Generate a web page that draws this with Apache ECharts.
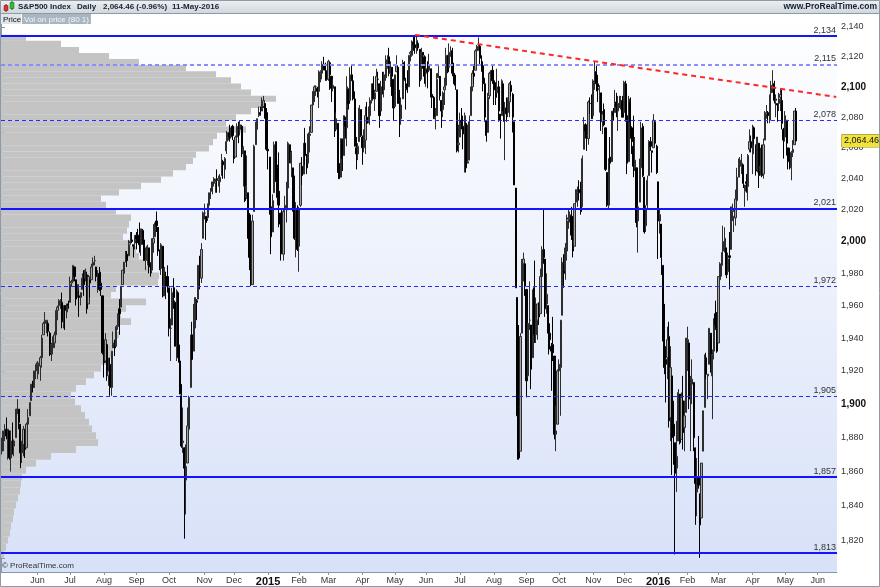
<!DOCTYPE html>
<html><head><meta charset="utf-8">
<script src="https://cdn.jsdelivr.net/npm/echarts@6/dist/echarts.min.js"></script>
<style>html,body{margin:0;padding:0;background:#fff}#c{width:880px;height:587px}</style>
</head><body><div id="c"></div>
<script>
// ---- axis / calendar ----
const firstDay = '2014-04-29';
const lastDay = '2016-06-17';
const holidays = ['2014-05-26','2014-07-04','2014-09-01','2014-11-27','2014-12-25','2015-01-01','2015-01-19','2015-02-16','2015-04-03','2015-05-25','2015-07-03','2015-09-07','2015-11-26','2015-12-25','2016-01-01','2016-01-18','2016-02-15','2016-03-25','2016-05-30'];
const monthNames = ['Jan','Feb','Mar','Apr','May','Jun','Jul','Aug','Sep','Oct','Nov','Dec'];
const yLabelValues = [1820,1840,1860,1880,1900,1920,1940,1960,1980,2000,2020,2040,2060,2080,2100,2120,2140];
const yTickValues = [1810,1820,1830,1840,1850,1860,1870,1880,1890,1900,1910,1920,1930,1940,1950,1960,1970,1980,1990,2000,2010,2020,2030,2040,2050,2060,2070,2080,2090,2100,2110,2120,2130,2140];

// ---- daily S&P500 [open, high, low, close] ----
const ohlc = [
// 2014 Apr
[1872,1880,1870,1878],[1877,1884,1872,1884],
// May
[1884,1888,1878,1884],[1885,1892,1879,1881],[1879,1885,1867,1885],[1884,1884,1867,1868],[1868,1884,1860,1878],[1878,1889,1870,1876],[1875,1879,1869,1878],[1880,1897,1880,1897],[1897,1903,1894,1897],[1897,1897,1885,1889],[1888,1888,1862,1871],[1871,1878,1865,1878],[1876,1887,1869,1885],[1885,1885,1868,1873],[1874,1889,1874,1888],[1888,1897,1886,1892],[1893,1901,1893,1901],[1902,1912,1902,1912],[1911,1914,1907,1910],[1910,1920,1910,1920],[1920,1924,1915,1924],
// Jun
[1924,1926,1915,1925],[1923,1925,1918,1924],[1923,1929,1914,1928],[1928,1942,1922,1940],[1942,1950,1942,1949],[1949,1956,1947,1951],[1950,1951,1943,1951],[1949,1950,1941,1944],[1943,1944,1929,1930],[1931,1937,1926,1936],[1934,1941,1930,1938],[1937,1944,1934,1942],[1942,1957,1937,1957],[1957,1960,1951,1959],[1960,1964,1958,1963],[1963,1964,1958,1963],[1962,1968,1946,1950],[1949,1960,1946,1960],[1960,1960,1945,1957],[1956,1961,1952,1961],[1961,1963,1958,1960],
// Jul
[1962,1978,1962,1973],[1974,1976,1972,1975],[1975,1985,1975,1985],[1984,1984,1975,1978],[1976,1976,1960,1964],[1965,1973,1965,1973],[1966,1969,1953,1965],[1965,1968,1960,1968],[1970,1980,1970,1977],[1978,1982,1966,1973],[1977,1983,1975,1982],[1979,1981,1955,1958],[1961,1979,1961,1978],[1976,1976,1965,1974],[1976,1986,1976,1984],[1985,1990,1984,1987],[1988,1991,1985,1988],[1984,1984,1975,1978],[1979,1982,1968,1979],[1980,1984,1969,1970],[1974,1981,1966,1970],[1966,1966,1930,1931],
// Aug
[1929,1932,1916,1925],[1926,1943,1925,1939],[1936,1936,1914,1920],[1917,1928,1911,1920],[1924,1928,1905,1910],[1910,1932,1905,1932],[1934,1944,1934,1937],[1936,1939,1929,1934],[1935,1948,1935,1947],[1947,1955,1945,1955],[1958,1964,1942,1955],[1959,1972,1959,1972],[1973,1982,1973,1982],[1980,1987,1979,1987],[1987,1994,1987,1992],[1992,1994,1984,1988],[1991,2001,1991,1998],[1999,2006,1998,2000],[2001,2006,1999,2000],[1998,1998,1990,1997],[1999,2004,1995,2003],
// Sep
[2004,2006,1995,2002],[2004,2008,1999,2001],[2002,2012,1993,1998],[1998,2008,1991,2008],[2007,2008,1998,2002],[2001,2003,1988,1988],[1988,1996,1982,1996],[1993,1998,1985,1997],[1996,1996,1980,1986],[1986,1987,1978,1984],[1982,2002,1980,1999],[1999,2011,1993,2002],[2003,2012,2003,2011],[2013,2019,2006,2010],[2009,2009,1991,1994],[1992,1995,1982,1983],[1983,1999,1979,1998],[1997,1997,1965,1966],[1966,1984,1966,1983],[1978,1981,1964,1978],[1978,1985,1968,1972],
// Oct
[1971,1971,1941,1946],[1946,1952,1926,1946],[1948,1971,1948,1968],[1971,1977,1958,1965],[1962,1963,1935,1935],[1935,1970,1926,1969],[1968,1968,1925,1928],[1926,1936,1906,1906],[1905,1912,1874,1875],[1877,1898,1871,1878],[1874,1874,1821,1862],[1855,1876,1835,1863],[1865,1898,1865,1887],[1885,1905,1883,1904],[1910,1942,1910,1941],[1942,1950,1927,1927],[1932,1961,1932,1951],[1951,1965,1946,1965],[1963,1964,1951,1962],[1964,1985,1964,1985],[1984,1991,1970,1982],[1977,1999,1974,1995],[2002,2019,2002,2018],
// Nov
[2018,2024,2014,2018],[2016,2016,2001,2012],[2016,2024,2013,2024],[2023,2031,2015,2031],[2032,2034,2027,2032],[2032,2038,2030,2038],[2038,2041,2035,2040],[2037,2040,2031,2038],[2040,2046,2031,2039],[2039,2042,2035,2040],[2038,2043,2031,2041],[2042,2056,2042,2052],[2051,2052,2040,2049],[2046,2054,2040,2053],[2058,2071,2056,2064],[2065,2070,2064,2069],[2070,2075,2064,2067],[2067,2073,2066,2073],[2074,2075,2065,2068],
// Dec
[2065,2065,2050,2053],[2054,2068,2054,2067],[2067,2076,2066,2074],[2073,2077,2063,2072],[2072,2078,2068,2075],[2074,2075,2054,2060],[2056,2061,2035,2060],[2058,2058,2025,2026],[2028,2055,2027,2035],[2031,2031,2002,2002],[2005,2018,1982,1990],[1986,2017,1972,1973],[1973,2017,1973,2013],[2019,2062,2019,2061],[2062,2077,2062,2071],[2072,2079,2070,2079],[2081,2087,2080,2082],[2083,2087,2081,2082],[2084,2093,2084,2089],[2087,2094,2086,2091],[2089,2089,2079,2080],[2083,2086,2058,2059],
// 2015 Jan
[2059,2072,2046,2058],[2054,2054,2017,2021],[2022,2030,1992,2003],[2006,2030,2006,2026],[2031,2064,2031,2062],[2064,2064,2038,2045],[2047,2049,2023,2028],[2032,2057,2009,2023],[2018,2018,1988,2011],[2014,2021,1992,1993],[1992,2020,1988,2019],[2021,2029,2004,2023],[2020,2038,2012,2032],[2034,2064,2026,2063],[2062,2062,2050,2052],[2050,2058,2041,2057],[2047,2047,2019,2030],[2032,2042,2001,2002],[2002,2025,1990,2021],[2020,2023,1994,1995],
// Feb
[1997,2022,1981,2021],[2023,2050,2022,2050],[2048,2054,2036,2042],[2043,2063,2043,2063],[2063,2073,2049,2055],[2053,2056,2043,2047],[2050,2070,2050,2069],[2068,2074,2057,2069],[2070,2088,2070,2088],[2088,2097,2086,2097],[2097,2101,2090,2100],[2100,2101,2094,2100],[2099,2100,2093,2097],[2097,2111,2086,2110],[2109,2111,2103,2110],[2109,2117,2105,2115],[2115,2120,2111,2114],[2114,2116,2104,2111],[2110,2111,2104,2105],
// Mar
[2105,2118,2104,2117],[2116,2116,2098,2108],[2107,2107,2090,2099],[2099,2105,2097,2101],[2100,2100,2067,2071],[2072,2083,2072,2079],[2076,2076,2044,2044],[2045,2050,2040,2040],[2041,2066,2041,2066],[2065,2066,2045,2053],[2055,2081,2055,2081],[2080,2080,2066,2074],[2073,2107,2061,2100],[2098,2099,2085,2089],[2091,2113,2091,2108],[2108,2115,2104,2104],[2104,2107,2091,2092],[2092,2097,2061,2061],[2060,2067,2046,2056],[2056,2063,2052,2061],[2064,2088,2064,2086],[2085,2085,2067,2068],
// Apr
[2067,2068,2049,2060],[2060,2072,2057,2067],[2065,2087,2056,2081],[2080,2090,2076,2076],[2077,2087,2076,2082],[2081,2093,2075,2091],[2091,2102,2089,2102],[2102,2107,2092,2092],[2092,2098,2084,2096],[2097,2112,2097,2107],[2105,2110,2101,2105],[2102,2102,2073,2081],[2084,2104,2084,2100],[2102,2110,2095,2097],[2098,2110,2093,2108],[2106,2121,2104,2113],[2113,2121,2112,2118],[2120,2126,2107,2109],[2109,2117,2100,2115],[2113,2113,2094,2107],[2105,2105,2078,2086],
// May
[2087,2108,2087,2108],[2110,2121,2110,2114],[2113,2114,2089,2089],[2091,2098,2067,2080],[2079,2093,2075,2088],[2092,2118,2092,2116],[2116,2117,2104,2105],[2102,2106,2085,2099],[2100,2111,2096,2098],[2100,2121,2100,2121],[2122,2124,2117,2123],[2121,2131,2120,2129],[2130,2134,2124,2128],[2128,2134.7,2122,2126],[2125,2134,2122,2131],[2129,2130,2124,2126],[2125,2125,2100,2104],[2105,2126,2105,2123],[2123,2123,2112,2121],[2120,2121,2102,2107],
// Jun
[2109,2117,2100,2112],[2111,2117,2099,2110],[2111,2122,2110,2114],[2112,2112,2093,2096],[2095,2101,2086,2093],[2093,2094,2079,2079],[2079,2086,2072,2080],[2081,2109,2081,2105],[2106,2115,2106,2109],[2107,2107,2091,2094],[2091,2091,2073,2084],[2085,2097,2080,2096],[2098,2106,2088,2100],[2101,2126,2099,2121],[2121,2121,2109,2110],[2113,2129,2113,2123],[2123,2127,2120,2124],[2124,2126,2107,2109],[2109,2116,2102,2102],[2103,2108,2098,2101],[2098,2098,2057,2058],[2062,2075,2057,2063],
// Jul
[2067,2083,2067,2077],[2078,2086,2072,2077],[2074,2081,2059,2069],[2070,2083,2044,2081],[2076,2076,2044,2047],[2050,2075,2050,2051],[2052,2081,2052,2077],[2081,2100,2081,2100],[2100,2111,2097,2109],[2109,2115,2102,2107],[2111,2125,2111,2124],[2124,2128,2120,2127],[2127,2133,2124,2128],[2127,2128,2115,2119],[2115,2121,2110,2114],[2114,2117,2097,2102],[2102,2106,2077,2080],[2078,2078,2064,2068],[2070,2096,2070,2093],[2094,2110,2092,2109],[2106,2111,2094,2109],[2111,2114,2102,2104],
// Aug
[2104,2105,2088,2098],[2097,2103,2088,2093],[2096,2112,2096,2100],[2100,2104,2077,2084],[2082,2082,2066,2078],[2081,2105,2081,2104],[2102,2102,2077,2084],[2082,2090,2052,2086],[2086,2093,2077,2083],[2083,2093,2080,2092],[2090,2103,2080,2102],[2101,2104,2094,2097],[2095,2096,2070,2080],[2077,2077,2036,2036],[2034,2034,1971,1971],[1965,1965,1867,1893],[1898,1948,1867,1868],[1872,1943,1872,1941],[1943,1989,1943,1988],[1986,1993,1975,1989],[1986,1986,1966,1972],
// Sep
[1970,1970,1904,1914],[1917,1948,1916,1949],[1951,1975,1945,1951],[1948,1948,1909,1921],[1928,1970,1928,1969],[1971,1988,1937,1942],[1942,1965,1937,1952],[1951,1961,1939,1961],[1959,1962,1948,1953],[1955,1983,1955,1978],[1978,1997,1977,1995],[1995,2021,1986,1990],[1989,1989,1953,1958],[1961,1980,1955,1967],[1960,1960,1930,1943],[1943,1949,1933,1939],[1935,1937,1908,1932],[1936,1953,1926,1931],[1929,1929,1879,1882],[1882,1899,1872,1884],[1888,1921,1888,1920],
// Oct
[1920,1927,1900,1924],[1922,1951,1893,1951],[1954,1990,1954,1987],[1986,1992,1971,1980],[1982,1999,1976,1996],[1994,2017,1988,2013],[2014,2020,2008,2015],[2015,2019,2012,2017],[2016,2022,2001,2004],[2003,2009,1990,1994],[1997,2024,1997,2024],[2025,2033,2020,2033],[2031,2035,2022,2034],[2033,2039,2026,2031],[2034,2038,2017,2019],[2022,2055,2022,2053],[2059,2080,2059,2075],[2075,2076,2066,2071],[2068,2071,2058,2066],[2066,2091,2062,2090],[2089,2093,2082,2089],[2091,2095,2079,2079],
// Nov
[2081,2105,2081,2104],[2103,2116.5,2098,2110],[2110,2114,2097,2102],[2102,2108,2090,2100],[2098,2101,2083,2099],[2096,2096,2071,2079],[2077,2084,2069,2082],[2085,2089,2074,2075],[2073,2073,2045,2046],[2044,2044,2022,2023],[2023,2053,2020,2053],[2054,2067,2046,2050],[2051,2084,2051,2084],[2083,2086,2078,2081],[2083,2098,2083,2089],[2090,2096,2080,2087],[2084,2094,2071,2089],[2089,2094,2086,2089],[2089,2094,2085,2090],[2091,2094,2080,2080],
// Dec
[2083,2104,2083,2103],[2102,2104,2077,2080],[2081,2086,2043,2050],[2051,2094,2051,2092],[2090,2093,2066,2077],[2073,2074,2056,2064],[2061,2081,2041,2048],[2047,2067,2045,2052],[2047,2047,2009,2012],[2013,2022,1993,2022],[2025,2053,2025,2043],[2047,2077,2042,2073],[2074,2076,2041,2042],[2041,2041,2005,2006],[2010,2023,2006,2021],[2023,2042,2021,2039],[2042,2065,2042,2064],[2064,2067,2058,2061],[2058,2058,2044,2057],[2060,2082,2060,2078],[2077,2077,2062,2063],[2061,2062,2043,2044],
// 2016 Jan
[2038,2038,1989,2013],[2013,2021,2005,2017],[2011,2011,1979,1990],[1985,1985,1938,1943],[1946,1961,1918,1922],[1927,1935,1901,1924],[1928,1947,1915,1939],[1941,1950,1886,1890],[1892,1935,1878,1922],[1917,1917,1858,1880],[1888,1902,1864,1881],[1877,1877,1812,1859],[1862,1890,1848,1869],[1878,1909,1878,1907],[1906,1906,1876,1877],[1879,1907,1879,1904],[1902,1917,1873,1883],[1886,1902,1872,1893],[1895,1940,1895,1940],
// Feb
[1937,1947,1920,1939],[1937,1937,1897,1903],[1908,1917,1872,1913],[1912,1927,1900,1915],[1913,1913,1872,1880],[1874,1874,1829,1853],[1848,1868,1834,1852],[1857,1881,1850,1852],[1847,1847,1810.1,1829],[1833,1865,1833,1865],[1872,1896,1872,1896],[1898,1930,1898,1927],[1928,1931,1915,1918],[1917,1918,1903,1918],[1924,1946,1924,1946],[1943,1943,1919,1921],[1917,1933,1891,1930],[1932,1952,1927,1952],[1955,1963,1945,1948],[1946,1956,1931,1932],
// Mar
[1937,1978,1937,1978],[1976,1987,1969,1986],[1985,1993,1978,1993],[1994,2010,1990,2000],[1996,2009,1993,2002],[1996,1996,1977,1979],[1981,1993,1979,1989],[1991,2006,1970,1990],[1995,2022,1995,2022],[2019,2024,2013,2020],[2015,2016,2006,2016],[2015,2033,2010,2027],[2026,2047,2023,2041],[2041,2053,2041,2050],[2048,2054,2044,2052],[2048,2056,2043,2050],[2049,2049,2034,2037],[2032,2036,2022,2036],[2038,2043,2031,2037],[2035,2056,2026,2055],[2059,2072,2057,2064],[2064,2068,2057,2060],
// Apr
[2056,2075,2043,2073],[2073,2074,2062,2066],[2062,2062,2042,2045],[2046,2067,2044,2067],[2063,2063,2034,2042],[2045,2060,2042,2048],[2050,2062,2041,2042],[2043,2066,2040,2062],[2065,2084,2065,2082],[2082,2088,2079,2083],[2083,2084,2076,2081],[2078,2095,2076,2094],[2096,2104,2087,2101],[2100,2111,2096,2102],[2102,2104,2089,2091],[2091,2095,2080,2092],[2089,2089,2077,2088],[2089,2096,2084,2092],[2093,2099,2084,2095],[2091,2099,2072,2076],[2072,2073,2053,2065],
// May
[2067,2084,2064,2081],[2078,2078,2055,2063],[2060,2060,2046,2051],[2053,2060,2046,2051],[2047,2058,2039,2057],[2057,2065,2054,2059],[2062,2084,2062,2084],[2084,2086,2065,2064.46]
];

// ---- horizontal levels, trend line, last price ----
const levelValues = [2134, 2115, 2078, 2021, 1972, 1905, 1857, 1813];
const levelKinds  = ['solid','wide-dash','dash','solid','dash','dash','solid','solid'];
const lastPrice = 2064.46;
const trendFrom = ['2015-05-20', 2134.7];
const trendTo   = ['2016-06-17', 2093.3];

// ---- volume on price profile (80 bins, bottom to top) ----
const profileLow = 1810.1, profileHigh = 2134.72;
const profileVolume = [3,5,7,9,10,12,13,15,17,19,20,21,25,35,50,75,97,95,91,88,84,80,74,70,75,85,93,100,105,110,112,115,118,115,130,120,125,145,110,115,157,158,150,145,138,135,130,122,126,128,130,115,105,100,118,140,160,172,185,192,195,208,212,216,245,225,235,250,262,275,250,240,230,215,185,138,108,78,60,25];

// ---------------------------------------------------
function tradingDays(s, e, hol) {
  const out = []; const d = new Date(s + 'T00:00:00Z'); const end = new Date(e + 'T00:00:00Z');
  while (d <= end) {
    const w = d.getUTCDay(); const k = d.toISOString().slice(0, 10);
    if (w !== 0 && w !== 6 && hol.indexOf(k) < 0) out.push(k);
    d.setUTCDate(d.getUTCDate() + 1);
  }
  return out;
}
const dates = tradingDays(firstDay, lastDay, holidays);
const monthStart = {};
for (let i = 5; i < dates.length; i++) {
  if (dates[i].slice(5, 7) !== dates[i - 1].slice(5, 7)) monthStart[i] = true;
}
const fmtNum = v => Math.round(v).toLocaleString('en-US');
const candle = ohlc.map(r => [r[0], r[3], r[2], r[1]]);
const nBins = profileVolume.length, binStep = (profileHigh - profileLow) / nBins;
const profileData = profileVolume.map((v, i) => [v, profileLow + i * binStep, profileLow + (i + 1) * binStep]);

const levelStyles = {
  'solid': { color: '#1414ff', width: 2, type: 'solid' },
  'wide-dash': { color: '#8c8cff', width: 2, type: [4, 3] },
  'dash': { color: '#2a2aff', width: 1, type: [4, 3] }
};
const markData = levelValues.map((v, i) => ({
  yAxis: v, lineStyle: levelStyles[levelKinds[i]],
  label: { show: true, position: 'insideEndTop', formatter: fmtNum(v), color: '#333', fontSize: 9, fontFamily: 'Liberation Sans, Arial', distance: [1, 1] }
}));
markData.push([
  { coord: trendFrom, lineStyle: { color: '#ff2626', width: 2, type: [5, 4] }, label: { show: false } },
  { coord: trendTo }
]);

const chart = echarts.init(document.getElementById('c'), null, { renderer: 'canvas' });
const font = 'Liberation Sans, Arial, sans-serif';
chart.setOption({
  animation: false,
  backgroundColor: '#ffffff',
  grid: { left: 1, right: 43, top: 14, bottom: 15, show: true, borderWidth: 0,
    backgroundColor: new echarts.graphic.LinearGradient(0, 0, 0, 1, [{ offset: 0, color: '#ffffff' }, { offset: 1, color: '#d7e1f8' }]) },
  xAxis: [{
    type: 'category', data: dates, boundaryGap: true,
    axisLine: { show: true, lineStyle: { color: '#8797a6' } },
    axisTick: { show: true, alignWithLabel: true, length: 3, interval: (i) => !!monthStart[i], lineStyle: { color: '#8797a6' } },
    axisLabel: { interval: (i) => !!monthStart[i], margin: 4, fontSize: 9, color: '#333', fontFamily: font,
      formatter: (v) => { const m = +v.slice(5, 7); return m === 1 ? '{y|' + v.slice(0, 4) + '}' : monthNames[m - 1]; },
      rich: { y: { fontSize: 11, fontWeight: 'bold', color: '#111', fontFamily: font } } },
    splitLine: { show: false }
  }, {
    type: 'value', min: 0, max: 836, show: false
  }],
  yAxis: [{
    type: 'log', logBase: 10, min: 1802, max: 2148.8, position: 'right',
    axisLine: { show: true, lineStyle: { color: '#8797a6' } },
    axisTick: { show: true, length: 4, customValues: yTickValues, lineStyle: { color: '#8797a6' } },
    axisLabel: { customValues: yLabelValues, margin: 4, fontSize: 9, color: '#333', fontFamily: font,
      formatter: (v) => { const r = Math.round(v); return r % 100 === 0 ? '{b|' + fmtNum(r) + '}' : fmtNum(r); },
      rich: { b: { fontSize: 10, fontWeight: 'bold', color: '#111', fontFamily: font } } },
    splitLine: { show: false }
  }],
  series: [{
    type: 'custom', name: 'Vol on price', xAxisIndex: 1, yAxisIndex: 0, z: 1, silent: true,
    data: profileData, encode: { x: 0, y: [1, 2] }, clip: true,
    renderItem: (params, api) => {
      const a = api.coord([0, api.value(1)]);
      const b = api.coord([api.value(0), api.value(2)]);
      return { type: 'rect', shape: { x: a[0], y: b[1], width: b[0] - a[0], height: a[1] - b[1] }, style: { fill: '#c4c4c4' } };
    }
  }, {
    type: 'candlestick', name: 'S&P500', xAxisIndex: 0, yAxisIndex: 0, z: 3,
    data: candle, barWidth: 1.7,
    itemStyle: { color: '#a4a4a4', color0: '#000000', borderColor: '#2e2e2e', borderColor0: '#000000', borderWidth: 1 },
    markLine: { silent: true, symbol: ['none', 'none'], animation: false, data: markData }
  }, {
    type: 'line', name: 'last', xAxisIndex: 0, yAxisIndex: 0, data: [], silent: true,
    markLine: { silent: true, symbol: ['none', 'none'], animation: false,
      data: [{ yAxis: lastPrice, lineStyle: { color: 'rgba(0,0,0,0)', width: 0 },
        label: { show: true, position: 'end', distance: 5, formatter: lastPrice.toLocaleString('en-US', { minimumFractionDigits: 2 }),
          backgroundColor: '#f1e33a', borderColor: '#9a8a10', borderWidth: 0.6, padding: [2, 2, 1, 2], color: '#111', fontSize: 9, fontFamily: 'Liberation Sans, Arial' } }] }
  }],
  graphic: [
    { type: 'rect', z: 100, shape: { x: 0, y: 0, width: 880, height: 14 },
      style: { fill: new echarts.graphic.LinearGradient(0, 0, 0, 1, [{ offset: 0, color: '#eef1f4' }, { offset: 1, color: '#cdd5dc' }]) } },
    { type: 'line', z: 101, shape: { x1: 0, y1: 13.5, x2: 880, y2: 13.5 }, style: { stroke: '#8d9ba6', lineWidth: 1 } },
    { type: 'line', z: 101, shape: { x1: 6, y1: 4, x2: 6, y2: 12 }, style: { stroke: '#7a1010', lineWidth: 1 } },
    { type: 'rect', z: 102, shape: { x: 4, y: 5.5, width: 4, height: 5 }, style: { fill: '#e03030', stroke: '#7a1010', lineWidth: 0.5 } },
    { type: 'line', z: 101, shape: { x1: 12, y1: 1, x2: 12, y2: 10 }, style: { stroke: '#106010', lineWidth: 1 } },
    { type: 'rect', z: 102, shape: { x: 10, y: 2.5, width: 4, height: 6 }, style: { fill: '#30c030', stroke: '#106010', lineWidth: 0.5 } },
    { type: 'text', z: 102, x: 18, y: 7, style: { text: 'S&P500 Index', font: 'bold 8px Liberation Sans, Arial', fill: '#15212d', verticalAlign: 'middle' } },
    { type: 'text', z: 102, x: 77, y: 7, style: { text: 'Daily', font: 'bold 8px Liberation Sans, Arial', fill: '#15212d', verticalAlign: 'middle' } },
    { type: 'text', z: 102, x: 103, y: 7, style: { text: '2,064.46 (-0.96%)', font: 'bold 8px Liberation Sans, Arial', fill: '#15212d', verticalAlign: 'middle' } },
    { type: 'text', z: 102, x: 172, y: 7, style: { text: '11-May-2016', font: 'bold 8px Liberation Sans, Arial', fill: '#15212d', verticalAlign: 'middle' } },
    { type: 'text', z: 102, x: 877, y: 7, style: { text: 'www.ProRealTime.com', font: 'bold 8.5px Liberation Sans, Arial', fill: '#15212d', align: 'right', verticalAlign: 'middle' } },
    { type: 'rect', z: 100, shape: { x: 1, y: 14, width: 20, height: 10 }, style: { fill: '#dfe5ea' } },
    { type: 'text', z: 102, x: 3, y: 19.5, style: { text: 'Price', font: '8px Liberation Sans, Arial', fill: '#111', verticalAlign: 'middle' } },
    { type: 'rect', z: 100, shape: { x: 22, y: 14, width: 69, height: 10 }, style: { fill: '#a9b6c1' } },
    { type: 'text', z: 102, x: 24, y: 19.5, style: { text: 'Vol on price (80 1)', font: '8px Liberation Sans, Arial', fill: '#f4f6f8', verticalAlign: 'middle' } },
    { type: 'text', z: 102, x: 2, y: 566, style: { text: '© ProRealTime.com', font: '8px Liberation Sans, Arial', fill: '#333', verticalAlign: 'middle' } },
    { type: 'rect', z: 103, shape: { x: 0.5, y: 0.5, width: 879, height: 586 }, style: { fill: 'none', stroke: '#8d9ba6', lineWidth: 1 } }
  ]
});
</script></body></html>
